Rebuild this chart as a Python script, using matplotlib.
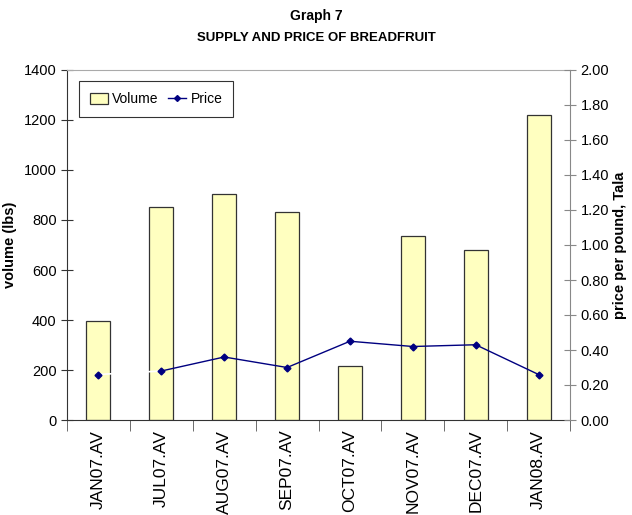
import matplotlib.pyplot as plt
import numpy as np

plt.rcParams['font.family'] = ['Liberation Sans', 'DejaVu Sans']

months = ['JAN07.AV', 'JUL07.AV', 'AUG07.AV', 'SEP07.AV', 'OCT07.AV',
          'NOV07.AV', 'DEC07.AV', 'JAN08.AV']
volume = [395, 850, 905, 830, 215, 735, 680, 1220]
price = [0.26, 0.28, 0.36, 0.30, 0.45, 0.42, 0.43, 0.26]

x = np.arange(len(months))

fig = plt.figure(figsize=(6.32, 5.15), dpi=100)
ax = fig.add_axes([67 / 632, 95 / 515, 503 / 632, 350 / 515])

bars = ax.bar(x, volume, width=0.38, color='#ffffc0', edgecolor='#333333',
              linewidth=0.9, label='Volume', zorder=2)
ax.set_xlim(-0.5, len(months) - 0.5)
ax.set_ylim(0, 1400)
ax.set_yticks(range(0, 1401, 200))
ax.set_xticks(x)
ax.set_xticklabels(months, rotation=90, fontsize=12.5)
ax.set_xticks(np.arange(-0.5, len(months), 1), minor=True)
ax.tick_params(axis='x', which='major', length=0, pad=7)
ax.tick_params(axis='x', which='minor', length=8, direction='out', color='#555555')
ax.tick_params(axis='y', direction='inout', length=8, labelsize=10.5, color='#333333')
ax.set_ylabel('volume (lbs)', fontsize=10.5, fontweight='bold', labelpad=5)
ax.spines['top'].set_color('#aaaaaa')
ax.spines['right'].set_visible(False)
ax.spines['left'].set_color('#333333')
ax.spines['bottom'].set_color('#333333')

ax2 = ax.twinx()
ax2.set_ylim(0, 2.0)
ax2.set_yticks(np.arange(0, 2.01, 0.2))
ax2.set_yticklabels(['%.2f' % v for v in np.arange(0, 2.01, 0.2)])
ax2.tick_params(axis='y', direction='inout', length=8, labelsize=10.5, color='#888888')
ax2.spines['right'].set_color('#888888')
ax2.spines['top'].set_visible(False)
ax2.spines['left'].set_visible(False)
ax2.spines['bottom'].set_visible(False)
ax2.set_ylabel('price per pound, Tala', fontsize=10.5, fontweight='bold', labelpad=3)

# first segment drawn white in the original
ax2.plot(x[:2], price[:2], color='white', linewidth=1.2, zorder=3)
ax2.plot(x[1:], price[1:], color='#000080', linewidth=1.0, zorder=3)
ax2.plot(x, price, linestyle='none', marker='D', markersize=3.5,
         color='#000080', zorder=4)
price_handle, = ax2.plot([], [], color='#000080', marker='D', markersize=3,
                         linewidth=1.0, label='Price')

leg = ax2.legend([bars, price_handle], ['Volume', 'Price'], loc='upper left',
                 bbox_to_anchor=(0.015, 0.98), ncol=2, fontsize=10,
                 frameon=True, fancybox=False, edgecolor='black',
                 handlelength=1.3, columnspacing=0.7, borderpad=0.8,
                 handletextpad=0.3, handleheight=0.8, borderaxespad=0.3)
leg.get_frame().set_linewidth(0.8)

fig.text(0.5, 1 - 16 / 515, 'Graph 7', ha='center', va='center',
         fontsize=10, fontweight='bold')
fig.text(0.5, 1 - 38 / 515, 'SUPPLY AND PRICE OF BREADFRUIT', ha='center',
         va='center', fontsize=9.5, fontweight='bold')

fig.savefig('out.png', dpi=100)
